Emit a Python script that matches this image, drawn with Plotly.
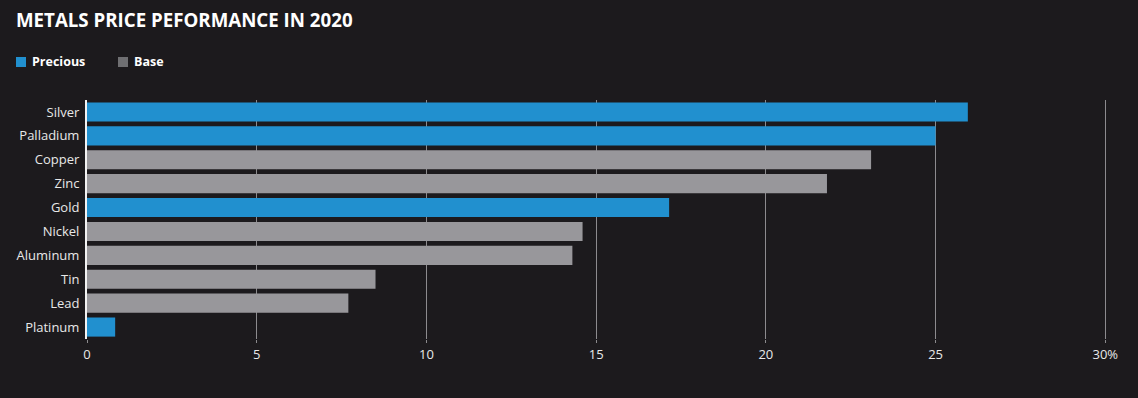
import plotly.graph_objects as go

metals = ["Silver", "Palladium", "Copper", "Zinc", "Gold", "Nickel", "Aluminum", "Tin", "Lead", "Platinum"]
performance = [25.95, 25.0, 23.1, 21.8, 17.15, 14.6, 14.3, 8.5, 7.7, 0.83]
groups = ["Precious", "Precious", "Base", "Base", "Precious", "Base", "Base", "Base", "Base", "Precious"]
group_names = ["Precious", "Base"]
x_ticks = [0, 5, 10, 15, 20, 25, 30]
x_tick_labels = ["0", "5", "10", "15", "20", "25", "30%"]

colors = {"Precious": "#2190CF", "Base": "#98979B"}
legend_colors = {"Precious": "#2190CF", "Base": "#6F6F72"}
BG = "#1C1A1D"
FONT = "Open Sans, Noto Sans, sans-serif"
W, H = 1138, 398
ML, MR, MT, MB = 87, 31, 100, 59
PW, PH = W - ML - MR, H - MT - MB

fig = go.Figure()
for g in group_names:
    ys = [m for m, gg in zip(metals, groups) if gg == g]
    xs = [v for v, gg in zip(performance, groups) if gg == g]
    fig.add_trace(go.Bar(
        x=xs, y=ys, name=g, orientation="h",
        marker=dict(color=colors[g], line=dict(width=0)),
        hovertemplate="%{y}: %{x}%<extra></extra>",
        showlegend=False,
    ))

# manual legend (square + bold label), positioned in pixels
legend_x = [16, 118]
shapes = []
annotations = []
for g, lx in zip(group_names, legend_x):
    shapes.append(dict(
        type="rect", xref="paper", yref="paper", layer="above",
        x0=(lx - ML) / PW, x1=(lx + 10 - ML) / PW,
        y0=(H - MB - 67) / PH, y1=(H - MB - 57) / PH,
        fillcolor=legend_colors[g], line=dict(width=0),
    ))
    annotations.append(dict(
        text="<b>" + g + "</b>", showarrow=False,
        xref="paper", yref="paper", xanchor="left", yanchor="middle",
        x=(lx + 14 - ML) / PW, y=(H - MB - 62) / PH,
        font=dict(family=FONT, size=12.5, color="#FFFFFF"),
    ))

fig.update_layout(
    width=W, height=H,
    paper_bgcolor=BG, plot_bgcolor=BG,
    margin=dict(l=ML, r=MR, t=MT, b=MB),
    barmode="overlay", bargap=0.2,
    font=dict(family=FONT, color="#E8E8E8", size=13),
    title=dict(
        text="<b>METALS PRICE PEFORMANCE IN 2020</b>",
        x=16 / W, xref="container", xanchor="left",
        y=1 - 20 / H, yref="container", yanchor="middle",
        font=dict(family=FONT, size=18.7, color="#FFFFFF"),
    ),
    showlegend=False,
    shapes=shapes,
    annotations=annotations,
)

fig.update_xaxes(
    range=[0, 30.05], tickvals=x_ticks, ticktext=x_tick_labels,
    showgrid=True, gridcolor="#8C8B8E", gridwidth=1,
    zeroline=False, showline=False,
    ticks="outside", ticklen=3, tickcolor="#8C8B8E",
    tickfont=dict(size=13, color="#E8E8E8"),
)
fig.update_yaxes(
    categoryorder="array", categoryarray=metals, autorange="reversed",
    showgrid=False, zeroline=False,
    showline=True, linecolor="#F2F2F2", linewidth=2,
    ticks="", ticklabelstandoff=3,
    tickfont=dict(size=13, color="#E8E8E8"),
)

fig.write_html(
    "out.html",
    config={"displayModeBar": False},
    post_script="document.body.style.margin='0';",
)
